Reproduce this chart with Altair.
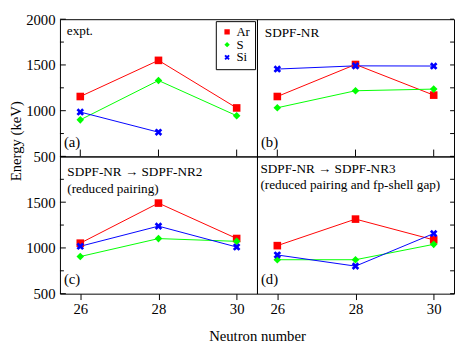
import altair as alt
import pandas as pd

FONT = "Liberation Serif, Times New Roman, Times, DejaVu Serif, serif"

# ---------------- data ----------------
series = ["Ar", "S", "Si"]
neutrons = [26, 28, 30]

expt_ar = [1155, 1550, 1030]
expt_s = [900, 1330, 945]
expt_si = [985, 765, None]

nr_ar = [1155, 1505, 1170]
nr_s = [1032, 1218, 1236]
nr_si = [1455, 1490, 1488]

nr2_ar = [1052, 1490, 1103]
nr2_s = [906, 1102, 1072]
nr2_si = [1018, 1238, 1010]

nr3_ar = [1025, 1315, 1088]
nr3_s = [871, 871, 1039]
nr3_si = [923, 801, 1157]

major_ticks = [500, 1000, 1500, 2000]
minor_ticks = [750, 1250, 1750]
x_ticks = [26, 28, 30]

text_a = ["expt."]
text_b = ["SDPF-NR"]
text_c = ["SDPF-NR \u2192 SDPF-NR2", "(reduced pairing)"]
text_d = ["SDPF-NR \u2192 SDPF-NR3", "(reduced pairing and fp-shell gap)"]
panel_labels = ["(a)", "(b)", "(c)", "(d)"]

# ---------------- styling ----------------
W, H = 201, 140
XPATH = "M-1,-0.5L-0.5,-1L0,-0.5L0.5,-1L1,-0.5L0.5,0L1,0.5L0.5,1L0,0.5L-0.5,1L-1,0.5L-0.5,0Z"
xs = alt.Scale(domain=[25.48, 30.52], nice=False, zero=False)
ys = alt.Scale(domain=[500, 2000], nice=False, zero=False)
cs = alt.Scale(domain=series, range=["#ff0000", "#00ff00", "#0000ff"])
ss = alt.Scale(domain=series, range=["square", "diamond", XPATH])


def frame(ar, s, si):
    rows = []
    for name, vals in zip(series, [ar, s, si]):
        for n, v in zip(neutrons, vals):
            if v is not None:
                rows.append({"N": n, "E": v, "series": name})
    return pd.DataFrame(rows)


def panel(df, texts, text_x, text_ys, label, xaxis, yaxis, legend,
          left_ticks, right_ticks, top_panel):
    X = alt.X("N:Q", scale=xs, axis=xaxis)
    Y = alt.Y("E:Q", scale=ys, axis=yaxis)
    layers = []
    layers.append(
        alt.Chart(df).mark_line(strokeWidth=1).encode(
            x=X, y=Y,
            color=alt.Color("series:N", scale=cs, legend=legend),
            detail="series:N", order="N:Q"))
    layers.append(
        alt.Chart(df).mark_point(filled=True, opacity=1, size=60, strokeWidth=0).encode(
            x=X, y=Y,
            color=alt.Color("series:N", scale=cs, legend=legend),
            shape=alt.Shape("series:N", scale=ss, legend=legend)))
    if left_ticks:
        layers.append(alt.Chart(pd.DataFrame({"E": major_ticks})).mark_rule(color="black", strokeWidth=1).encode(
            y=Y, x=alt.value(0), x2=alt.value(6)))
        layers.append(alt.Chart(pd.DataFrame({"E": minor_ticks})).mark_rule(color="black", strokeWidth=1).encode(
            y=Y, x=alt.value(0), x2=alt.value(4)))
    if right_ticks:
        layers.append(alt.Chart(pd.DataFrame({"E": major_ticks + minor_ticks})).mark_rule(color="black", strokeWidth=1).encode(
            y=Y, x=alt.value(W), x2=alt.value(W - 4)))
    if top_panel:
        layers.append(alt.Chart(pd.DataFrame({"N": x_ticks})).mark_rule(color="black", strokeWidth=1).encode(
            x=X, y=alt.value(H), y2=alt.value(H - 7)))
    for t, ty in zip(texts, text_ys):
        layers.append(alt.Chart(pd.DataFrame({"t": [t]})).mark_text(
            align="left", baseline="alphabetic", font=FONT, fontSize=13.5, color="black").encode(
            text="t:N", x=alt.value(text_x), y=alt.value(ty)))
    layers.append(alt.Chart(pd.DataFrame({"t": [label]})).mark_text(
        align="left", baseline="alphabetic", font=FONT, fontSize=15, color="black").encode(
        text="t:N", x=alt.value(4), y=alt.value(H - 10)))
    return alt.layer(*layers).properties(width=W, height=H)


legend_a = alt.Legend(
    title=None, orient="none", legendX=W - 42, legendY=2,
    strokeColor="black", fillColor="white", padding=5, cornerRadius=0,
    labelFont=FONT, labelFontSize=13, labelColor="black", symbolSize=30,
    symbolStrokeWidth=0, clipHeight=12, rowPadding=0, labelOffset=3, symbolOpacity=1)

yaxis_a = alt.Axis(values=major_ticks, ticks=False, tickSize=0, labelPadding=5, labelFlush=False,
                   format="d", title="Energy (keV)", titleX=-45, titleY=H - 16, titleAngle=270,
                   titleBaseline="middle", titleAlign="center")
yaxis_c = alt.Axis(values=[500, 1000, 1500], ticks=False, tickSize=0, labelPadding=5,
                   labelFlush=False, format="d", title=None)
xaxis_c = alt.Axis(values=x_ticks, format="d", tickSize=6, labelPadding=2, labelFlush=False,
                   title="Neutron number", titleX=W, titleY=48, titleAngle=0,
                   titleBaseline="alphabetic", titleAlign="center")
xaxis_d = alt.Axis(values=x_ticks, format="d", tickSize=6, labelPadding=2, labelFlush=False,
                   title=None)

pa = panel(frame(expt_ar, expt_s, expt_si), text_a, 7, [16], panel_labels[0],
           None, yaxis_a, legend_a, True, False, True)
pb = panel(frame(nr_ar, nr_s, nr_si), text_b, 8, [18], panel_labels[1],
           None, None, None, False, True, True)
pc = panel(frame(nr2_ar, nr2_s, nr2_si), text_c, 7.5, [20, 37], panel_labels[2],
           xaxis_c, yaxis_c, None, True, False, False)
pd_ = panel(frame(nr3_ar, nr3_s, nr3_si), text_d, 3.5, [17, 33], panel_labels[3],
            xaxis_d, None, None, False, True, False)

chart = (
    alt.concat(pa, pb, pc, pd_, columns=2, spacing=0, bounds="flush")
    .resolve_scale(color="independent", shape="independent")
    .resolve_legend(color="independent", shape="independent")
    .properties(padding=0, background="white")
    .configure_view(stroke="black", strokeWidth=1)
    .configure_axis(labelFont=FONT, titleFont=FONT, labelFontSize=15, titleFontSize=15,
                    titleFontWeight="normal", labelColor="black", titleColor="black",
                    grid=False, domain=False, tickColor="black")
    .configure_legend(strokeColor="black", fillColor="white", padding=5, cornerRadius=0,
                      labelFont=FONT, labelFontSize=13, labelColor="black", symbolSize=30,
                      symbolStrokeWidth=0, clipHeight=12, rowPadding=0, labelOffset=3,
                      symbolOpacity=1, strokeWidth=1)
)

chart.save("out.html", embed_options={"renderer": "svg", "actions": False})
